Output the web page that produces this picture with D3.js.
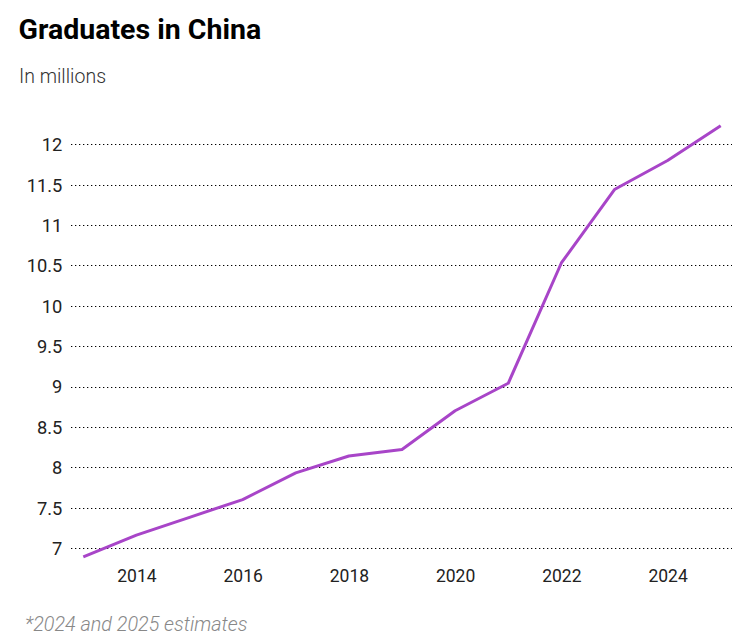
<!DOCTYPE html>
<html><head><meta charset="utf-8">
<script src="https://cdn.jsdelivr.net/npm/d3@7"></script>
<style>
body{margin:0;background:#fff;}
svg{display:block;font-family:Roboto,sans-serif;}
</style></head>
<body><svg id="c" width="749" height="639"></svg>
<script>
const years = [2013,2014,2015,2016,2017,2018,2019,2020,2021,2022,2023,2024,2025];
const graduates = [6.89,7.16,7.38,7.60,7.93,8.14,8.22,8.70,9.04,10.53,11.44,11.80,12.23];
const yTicks = [7,7.5,8,8.5,9,9.5,10,10.5,11,11.5,12];
const xTicks = [2014,2016,2018,2020,2022,2024];
const title = "Graduates in China";
const subtitle = "In millions";
const note = "*2024 and 2025 estimates";

const svg = d3.select("#c");
const x = d3.scaleLinear().domain([2013,2025]).range([83.3,720.7]);
const y = d3.scaleLinear().domain([7,12]).range([548,144.3]);

svg.append("text").attr("x",18.5).attr("y",38.5).attr("font-size",28.5).attr("font-weight",700)
  .attr("fill","#000").text(title);
svg.append("text").attr("x",19).attr("y",82.5).attr("font-size",19.5).attr("font-weight",300)
  .attr("fill","#333").text(subtitle);

const yAxis = d3.axisLeft(y).tickValues(yTicks).tickSize(0).tickPadding(0)
  .tickFormat(d=>String(d));
const gy = svg.append("g").attr("transform","translate(62.3,0)").call(yAxis);
gy.select(".domain").remove();
gy.selectAll("text").attr("font-size",18.3).attr("fill","#222").attr("font-family","Roboto,sans-serif").attr("dy","0.35em");

svg.append("g").selectAll("line").data(yTicks).join("line")
  .attr("x1",71).attr("x2",732).attr("y1",d=>Math.round(y(d))+0.5).attr("y2",d=>Math.round(y(d))+0.5)
  .attr("stroke","#000").attr("stroke-width",1.2).attr("stroke-dasharray","1.3,2.7");

const xAxis = d3.axisBottom(x).tickValues(xTicks).tickSize(0).tickPadding(0).tickFormat(d=>String(d));
const gx = svg.append("g").attr("transform","translate(0,581.7)").call(xAxis);
gx.select(".domain").remove();
gx.selectAll("text").attr("font-size",17.5).attr("fill","#222").attr("font-family","Roboto,sans-serif").attr("dy","0").attr("y",0);

const line = d3.line().x((d,i)=>x(years[i])).y(d=>y(d));
svg.append("path").datum(graduates).attr("d",line).attr("fill","none")
  .attr("stroke","#a845c8").attr("stroke-width",3).attr("stroke-linejoin","round");

svg.append("text").attr("x",25).attr("y",630.7).attr("font-size",19.8).attr("font-style","italic").attr("font-weight",300)
  .attr("fill","#888").text(note);
</script></body></html>
